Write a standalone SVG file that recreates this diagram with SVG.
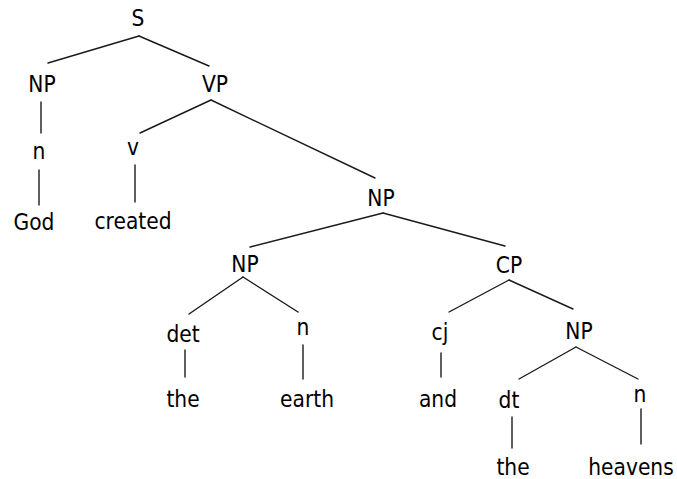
<svg xmlns="http://www.w3.org/2000/svg" width="677" height="479" viewBox="0 0 677 479">
  <style>
    .bg { fill: #ffffff; }
    .edge { stroke: #1a1a1a; stroke-width: 1.4; fill: none; stroke-linecap: round; }
    .lbl { font-family: "DejaVu Sans Condensed", "DejaVu Sans", "Liberation Sans", sans-serif; font-stretch: condensed; font-size: 22.5px; fill: #000000; text-anchor: middle; }
  </style>
  <rect class="bg" x="0" y="0" width="677" height="479"/>

  <!-- tree branches -->
  <g id="connectors">
    <line class="edge" x1="139" y1="36" x2="48" y2="63"/>
    <line class="edge" x1="139" y1="36" x2="209" y2="66"/>
    <line class="edge" x1="41" y1="102" x2="41" y2="133"/>
    <line class="edge" x1="39" y1="170" x2="39" y2="205"/>
    <line class="edge" x1="211" y1="100" x2="140" y2="133"/>
    <line class="edge" x1="211" y1="100" x2="375" y2="178"/>
    <line class="edge" x1="135" y1="165" x2="135" y2="202"/>
    <line class="edge" x1="383" y1="213" x2="250" y2="247"/>
    <line class="edge" x1="383" y1="213" x2="505" y2="246"/>
    <line class="edge" x1="243" y1="277" x2="189" y2="314"/>
    <line class="edge" x1="243" y1="277" x2="298" y2="312"/>
    <line class="edge" x1="185" y1="350" x2="185" y2="377"/>
    <line class="edge" x1="303" y1="345" x2="303" y2="379"/>
    <line class="edge" x1="509" y1="280" x2="449" y2="312"/>
    <line class="edge" x1="509" y1="280" x2="573" y2="309"/>
    <line class="edge" x1="441" y1="353" x2="441" y2="377"/>
    <line class="edge" x1="576" y1="347" x2="519" y2="379"/>
    <line class="edge" x1="576" y1="347" x2="638" y2="379"/>
    <line class="edge" x1="512" y1="417" x2="512" y2="448"/>
    <line class="edge" x1="641" y1="409" x2="641" y2="444"/>
  </g>

  <!-- tree nodes -->
  <g id="n-s"><text class="lbl" x="138" y="26">S</text></g>
  <g id="n-np1"><text class="lbl" x="42" y="92">NP</text></g>
  <g id="n-vp"><text class="lbl" x="215" y="92">VP</text></g>
  <g id="n-n1"><text class="lbl" x="39" y="159">n</text></g>
  <g id="n-v"><text class="lbl" x="133" y="155">v</text></g>
  <g id="n-god"><text class="lbl" x="34" y="230">God</text></g>
  <g id="n-created"><text class="lbl" x="133" y="229">created</text></g>
  <g id="n-np2"><text class="lbl" x="381" y="206">NP</text></g>
  <g id="n-np3"><text class="lbl" x="245" y="272">NP</text></g>
  <g id="n-cp"><text class="lbl" x="509" y="273">CP</text></g>
  <g id="n-det"><text class="lbl" x="183" y="342">det</text></g>
  <g id="n-n2"><text class="lbl" x="303" y="335">n</text></g>
  <g id="n-cj"><text class="lbl" x="440" y="340">cj</text></g>
  <g id="n-np4"><text class="lbl" x="579" y="339">NP</text></g>
  <g id="n-the1"><text class="lbl" x="183" y="407">the</text></g>
  <g id="n-earth"><text class="lbl" x="307" y="407">earth</text></g>
  <g id="n-and"><text class="lbl" x="438" y="407">and</text></g>
  <g id="n-dt"><text class="lbl" x="509" y="408">dt</text></g>
  <g id="n-n3"><text class="lbl" x="640" y="402">n</text></g>
  <g id="n-the2"><text class="lbl" x="513" y="475">the</text></g>
  <g id="n-heavens"><text class="lbl" x="631" y="475">heavens</text></g>
</svg>
